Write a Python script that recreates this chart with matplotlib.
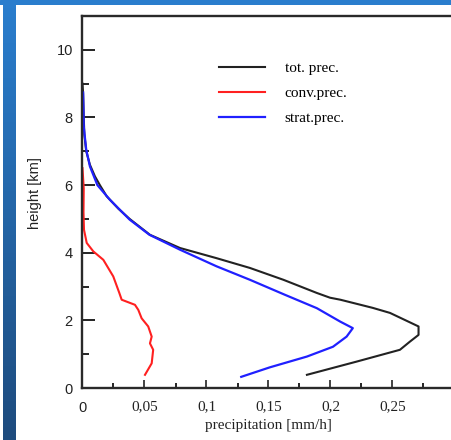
import matplotlib.pyplot as plt
import numpy as np
from matplotlib.colors import LinearSegmentedColormap
from matplotlib.ticker import MultipleLocator, FixedLocator

# Data (height in km, precipitation in mm/h)
tot_height = [0.39, 0.78, 1.13, 1.37, 1.57, 1.82, 2.22, 2.37, 2.61, 2.67, 2.81, 3.2,
              3.55, 3.84, 4.14, 4.53, 5.0, 5.3, 5.67, 6.0, 6.26, 6.6, 7.0,
              7.5, 8.0, 8.7, 9.0]
tot_prec = [0.181, 0.221, 0.256, 0.264, 0.271, 0.271, 0.248, 0.234, 0.208, 0.1996,
            0.189, 0.162, 0.135, 0.108, 0.0786, 0.0544, 0.038, 0.029,
            0.0195, 0.014, 0.010, 0.006, 0.003, 0.0015, 0.001, 0.0005, 0.0]

conv_height = [0.39, 0.73, 1.13, 1.32, 1.52, 1.82, 2.06, 2.31, 2.46, 2.61, 2.81,
               3.3, 3.79, 4.04, 4.29, 4.68, 5.2, 5.9, 6.5]
conv_prec = [0.0504, 0.0558, 0.057, 0.0544, 0.0558, 0.053, 0.0477, 0.045, 0.0423,
             0.0316, 0.0297, 0.0248, 0.0168, 0.0087, 0.0034, 0.0012, 0.0008, 0.001, 0.0]

strat_height = [0.33, 0.61, 0.93, 1.22, 1.52, 1.77, 1.96, 2.36, 2.76, 3.2, 3.6,
                4.09, 4.53, 4.98, 5.57, 6.0, 6.55, 7.05, 7.73, 8.2, 8.74]
strat_prec = [0.128, 0.151, 0.181, 0.202, 0.213, 0.218, 0.208, 0.189, 0.163, 0.135,
              0.108, 0.0786, 0.054, 0.038, 0.022, 0.012, 0.006, 0.003, 0.001,
              0.0008, 0.0005]

x_major = [0, 0.05, 0.1, 0.15, 0.2, 0.25]
x_labels = ["0", "0,05", "0,1", "0,15", "0,2", "0,25"]
y_major = [0, 2, 4, 6, 8, 10]

fig = plt.figure(figsize=(4.52, 4.40), dpi=100)
fig.patch.set_facecolor("white")

# blue frame on the top and left edge
W, H = 452, 440
top_bar = fig.add_axes([0, 1 - 5 / H, 1, 5 / H])
top_bar.set_axis_off()
top_bar.add_patch(plt.Rectangle((0, 0), 1, 1, color="#2a7dcd", transform=top_bar.transAxes))
left_bar = fig.add_axes([3 / W, 0, 13 / W, 1 - 5 / H])
grad = np.linspace(0, 1, 100).reshape(-1, 1)
cmap = LinearSegmentedColormap.from_list("frame", ["#1e4c7e", "#2a7dcd"])
left_bar.imshow(grad, aspect="auto", cmap=cmap, origin="lower", extent=[0, 1, 0, 1])
left_bar.set_axis_off()

ax = fig.add_axes([82.5 / W, 52 / H, 372 / W, 372 / H])
ax.plot(tot_prec, tot_height, color="#222222", lw=1.5, label="tot. prec.")
ax.plot(conv_prec, conv_height, color="#ff2020", lw=1.5, label="conv.prec.")
ax.plot(strat_prec, strat_height, color="#2020ff", lw=1.6, label="strat.prec.")

ax.set_xlim(0, 0.3)
ax.set_ylim(0, 11)

for s in ax.spines.values():
    s.set_linewidth(1.7)
    s.set_color("#2a2a2a")

ax.xaxis.set_major_locator(FixedLocator(x_major))
ax.xaxis.set_minor_locator(MultipleLocator(0.025))
ax.yaxis.set_major_locator(FixedLocator(y_major))
ax.yaxis.set_minor_locator(MultipleLocator(1))
ax.tick_params(axis="y", which="major", direction="in", length=9.5, width=1.4, pad=7,
               labelsize=10.5, colors="#222222")
ax.tick_params(axis="y", which="minor", direction="in", length=5, width=1.2)
ax.tick_params(axis="x", which="major", direction="in", length=5.5, width=1.2, pad=9,
               labelsize=11, colors="#222222")
ax.tick_params(axis="x", which="minor", direction="in", length=3.5, width=1.2)

ax.set_xticklabels(x_labels)
for i, t in enumerate(ax.get_xticklabels()):
    if i == 0:
        t.set_family("Liberation Sans")
        t.set_fontsize(10.5)
    else:
        t.set_family("Liberation Serif")
for t in ax.get_yticklabels():
    t.set_family("Liberation Sans")

ax.set_xlabel("precipitation [mm/h]", family="Liberation Serif", fontsize=11,
              color="#222222", labelpad=3)
ax.set_ylabel("height [km]", family="Liberation Sans", fontsize=10.5,
              color="#222222")
ax.yaxis.set_label_coords(-0.109, 0.525)

leg = ax.legend(loc="upper left", bbox_to_anchor=(0.33, 0.915), frameon=False,
                prop={"family": "Liberation Serif", "size": 11}, handlelength=3.0,
                handletextpad=1.3, labelspacing=0.75)

fig.savefig("out.png", dpi=100)
